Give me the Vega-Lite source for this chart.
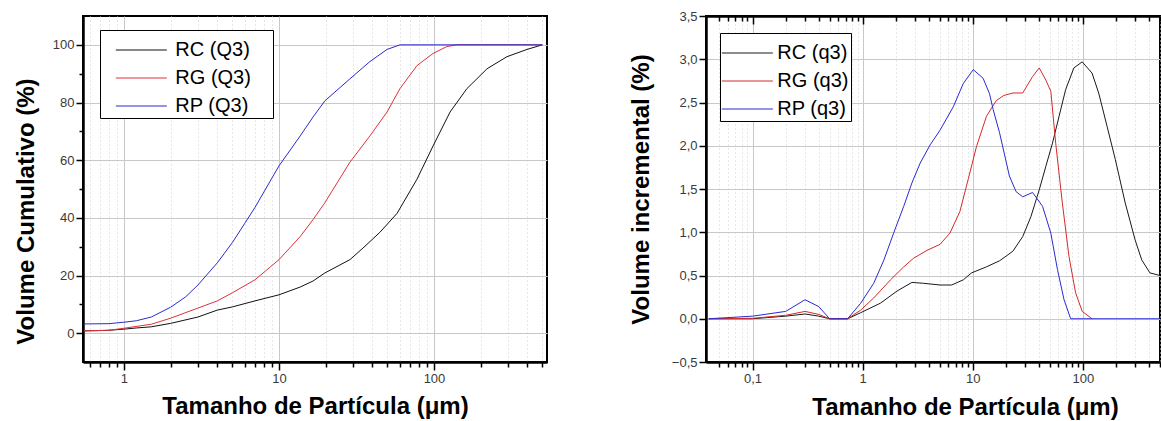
{
  "$schema": "https://vega.github.io/schema/vega-lite/v6.json",
  "padding": {"left": 13, "top": 9, "right": 0, "bottom": 0},
  "bounds": "flush",
  "spacing": 159,
  "datasets": {
    "cum": [
      {"s": "RC (Q3)", "x": 0.55, "y": 0.8}, {"s": "RC (Q3)", "x": 0.7, "y": 0.9}, {"s": "RC (Q3)", "x": 0.8, "y": 1.0},
      {"s": "RC (Q3)", "x": 1, "y": 1.4}, {"s": "RC (Q3)", "x": 1.2, "y": 1.8}, {"s": "RC (Q3)", "x": 1.5, "y": 2.2},
      {"s": "RC (Q3)", "x": 2, "y": 3.4}, {"s": "RC (Q3)", "x": 3, "y": 5.6}, {"s": "RC (Q3)", "x": 4, "y": 8.0},
      {"s": "RC (Q3)", "x": 5, "y": 9.1}, {"s": "RC (Q3)", "x": 7, "y": 11.2}, {"s": "RC (Q3)", "x": 10, "y": 13.3},
      {"s": "RC (Q3)", "x": 13.7, "y": 16.0}, {"s": "RC (Q3)", "x": 16.6, "y": 18.1}, {"s": "RC (Q3)", "x": 19.8, "y": 20.9},
      {"s": "RC (Q3)", "x": 28.7, "y": 25.5}, {"s": "RC (Q3)", "x": 34.8, "y": 29.5}, {"s": "RC (Q3)", "x": 44.8, "y": 35.0},
      {"s": "RC (Q3)", "x": 57.7, "y": 41.5}, {"s": "RC (Q3)", "x": 77.7, "y": 53.4}, {"s": "RC (Q3)", "x": 98.6, "y": 64.9},
      {"s": "RC (Q3)", "x": 127, "y": 76.7}, {"s": "RC (Q3)", "x": 163, "y": 84.8}, {"s": "RC (Q3)", "x": 220, "y": 91.7},
      {"s": "RC (Q3)", "x": 296, "y": 95.9}, {"s": "RC (Q3)", "x": 398, "y": 98.4}, {"s": "RC (Q3)", "x": 500, "y": 100},
      {"s": "RG (Q3)", "x": 0.55, "y": 0.8}, {"s": "RG (Q3)", "x": 0.8, "y": 1.0}, {"s": "RG (Q3)", "x": 1, "y": 1.7},
      {"s": "RG (Q3)", "x": 1.5, "y": 3.1}, {"s": "RG (Q3)", "x": 2, "y": 5.2}, {"s": "RG (Q3)", "x": 3, "y": 8.7},
      {"s": "RG (Q3)", "x": 4, "y": 11.2}, {"s": "RG (Q3)", "x": 5, "y": 14.0}, {"s": "RG (Q3)", "x": 7, "y": 18.5},
      {"s": "RG (Q3)", "x": 10, "y": 25.5}, {"s": "RG (Q3)", "x": 13.7, "y": 33.5}, {"s": "RG (Q3)", "x": 16.6, "y": 39.4},
      {"s": "RG (Q3)", "x": 19.8, "y": 45.3}, {"s": "RG (Q3)", "x": 28.7, "y": 59.3}, {"s": "RG (Q3)", "x": 38.6, "y": 68.4},
      {"s": "RG (Q3)", "x": 49.8, "y": 76.7}, {"s": "RG (Q3)", "x": 60.3, "y": 84.8}, {"s": "RG (Q3)", "x": 77.7, "y": 92.8},
      {"s": "RG (Q3)", "x": 98.6, "y": 97.0}, {"s": "RG (Q3)", "x": 121, "y": 99.4}, {"s": "RG (Q3)", "x": 141, "y": 100},
      {"s": "RG (Q3)", "x": 500, "y": 100},
      {"s": "RP (Q3)", "x": 0.55, "y": 3.2}, {"s": "RP (Q3)", "x": 0.8, "y": 3.3}, {"s": "RP (Q3)", "x": 1, "y": 3.8},
      {"s": "RP (Q3)", "x": 1.2, "y": 4.3}, {"s": "RP (Q3)", "x": 1.5, "y": 5.6}, {"s": "RP (Q3)", "x": 2, "y": 9.0},
      {"s": "RP (Q3)", "x": 2.5, "y": 12.6}, {"s": "RP (Q3)", "x": 3, "y": 16.7}, {"s": "RP (Q3)", "x": 4, "y": 24.4},
      {"s": "RP (Q3)", "x": 5, "y": 31.4}, {"s": "RP (Q3)", "x": 6, "y": 38.0}, {"s": "RP (Q3)", "x": 7, "y": 43.6},
      {"s": "RP (Q3)", "x": 10, "y": 58.0}, {"s": "RP (Q3)", "x": 13.7, "y": 68.4}, {"s": "RP (Q3)", "x": 16.6, "y": 75.0},
      {"s": "RP (Q3)", "x": 19.8, "y": 80.6}, {"s": "RP (Q3)", "x": 28.7, "y": 88.2}, {"s": "RP (Q3)", "x": 38.6, "y": 94.2},
      {"s": "RP (Q3)", "x": 49.8, "y": 98.4}, {"s": "RP (Q3)", "x": 60.3, "y": 100}, {"s": "RP (Q3)", "x": 500, "y": 100}
    ],
    "inc": [
      {"s": "RC (q3)", "x": 0.04, "y": 0}, {"s": "RC (q3)", "x": 0.1, "y": 0}, {"s": "RC (q3)", "x": 0.2, "y": 0.03},
      {"s": "RC (q3)", "x": 0.3, "y": 0.055}, {"s": "RC (q3)", "x": 0.4, "y": 0.03}, {"s": "RC (q3)", "x": 0.5, "y": 0},
      {"s": "RC (q3)", "x": 0.73, "y": 0}, {"s": "RC (q3)", "x": 0.96, "y": 0.07}, {"s": "RC (q3)", "x": 1.45, "y": 0.18},
      {"s": "RC (q3)", "x": 2.05, "y": 0.32}, {"s": "RC (q3)", "x": 2.8, "y": 0.42}, {"s": "RC (q3)", "x": 3.57, "y": 0.41},
      {"s": "RC (q3)", "x": 5.04, "y": 0.39}, {"s": "RC (q3)", "x": 6.43, "y": 0.39}, {"s": "RC (q3)", "x": 8.2, "y": 0.45},
      {"s": "RC (q3)", "x": 9.73, "y": 0.53}, {"s": "RC (q3)", "x": 13.3, "y": 0.60}, {"s": "RC (q3)", "x": 17.5, "y": 0.67},
      {"s": "RC (q3)", "x": 23.1, "y": 0.78}, {"s": "RC (q3)", "x": 28.4, "y": 0.95}, {"s": "RC (q3)", "x": 33.7, "y": 1.18},
      {"s": "RC (q3)", "x": 40.1, "y": 1.49}, {"s": "RC (q3)", "x": 46, "y": 1.76}, {"s": "RC (q3)", "x": 52.9, "y": 2.03},
      {"s": "RC (q3)", "x": 60.7, "y": 2.34}, {"s": "RC (q3)", "x": 69.7, "y": 2.65}, {"s": "RC (q3)", "x": 82.8, "y": 2.90},
      {"s": "RC (q3)", "x": 98.5, "y": 2.97}, {"s": "RC (q3)", "x": 121, "y": 2.84}, {"s": "RC (q3)", "x": 139, "y": 2.61},
      {"s": "RC (q3)", "x": 166, "y": 2.22}, {"s": "RC (q3)", "x": 197, "y": 1.84}, {"s": "RC (q3)", "x": 242, "y": 1.34},
      {"s": "RC (q3)", "x": 298, "y": 0.91}, {"s": "RC (q3)", "x": 342, "y": 0.68}, {"s": "RC (q3)", "x": 406, "y": 0.53},
      {"s": "RC (q3)", "x": 500, "y": 0.50},
      {"s": "RG (q3)", "x": 0.04, "y": 0}, {"s": "RG (q3)", "x": 0.1, "y": 0.005}, {"s": "RG (q3)", "x": 0.2, "y": 0.04},
      {"s": "RG (q3)", "x": 0.3, "y": 0.085}, {"s": "RG (q3)", "x": 0.4, "y": 0.05}, {"s": "RG (q3)", "x": 0.5, "y": 0},
      {"s": "RG (q3)", "x": 0.73, "y": 0}, {"s": "RG (q3)", "x": 0.96, "y": 0.10}, {"s": "RG (q3)", "x": 1.26, "y": 0.24},
      {"s": "RG (q3)", "x": 1.79, "y": 0.45}, {"s": "RG (q3)", "x": 2.36, "y": 0.60}, {"s": "RG (q3)", "x": 2.9, "y": 0.70},
      {"s": "RG (q3)", "x": 3.83, "y": 0.79}, {"s": "RG (q3)", "x": 5.04, "y": 0.86}, {"s": "RG (q3)", "x": 6.2, "y": 0.99},
      {"s": "RG (q3)", "x": 7.64, "y": 1.24}, {"s": "RG (q3)", "x": 9.07, "y": 1.61}, {"s": "RG (q3)", "x": 10.8, "y": 1.99},
      {"s": "RG (q3)", "x": 13.3, "y": 2.34}, {"s": "RG (q3)", "x": 16.3, "y": 2.52}, {"s": "RG (q3)", "x": 19, "y": 2.58},
      {"s": "RG (q3)", "x": 23.1, "y": 2.61}, {"s": "RG (q3)", "x": 28.4, "y": 2.61}, {"s": "RG (q3)", "x": 34.9, "y": 2.80},
      {"s": "RG (q3)", "x": 40.1, "y": 2.90}, {"s": "RG (q3)", "x": 46, "y": 2.76}, {"s": "RG (q3)", "x": 51.1, "y": 2.63},
      {"s": "RG (q3)", "x": 56.6, "y": 2.03}, {"s": "RG (q3)", "x": 65, "y": 1.34}, {"s": "RG (q3)", "x": 74.7, "y": 0.72},
      {"s": "RG (q3)", "x": 85.8, "y": 0.30}, {"s": "RG (q3)", "x": 98.5, "y": 0.085}, {"s": "RG (q3)", "x": 121, "y": 0},
      {"s": "RP (q3)", "x": 0.04, "y": 0}, {"s": "RP (q3)", "x": 0.1, "y": 0.03}, {"s": "RP (q3)", "x": 0.2, "y": 0.085},
      {"s": "RP (q3)", "x": 0.3, "y": 0.22}, {"s": "RP (q3)", "x": 0.4, "y": 0.14}, {"s": "RP (q3)", "x": 0.5, "y": 0},
      {"s": "RP (q3)", "x": 0.73, "y": 0}, {"s": "RP (q3)", "x": 0.96, "y": 0.18}, {"s": "RP (q3)", "x": 1.26, "y": 0.41},
      {"s": "RP (q3)", "x": 1.56, "y": 0.68}, {"s": "RP (q3)", "x": 1.91, "y": 0.99}, {"s": "RP (q3)", "x": 2.36, "y": 1.30},
      {"s": "RP (q3)", "x": 2.8, "y": 1.57}, {"s": "RP (q3)", "x": 3.33, "y": 1.80}, {"s": "RP (q3)", "x": 4.1, "y": 2.01},
      {"s": "RP (q3)", "x": 5.04, "y": 2.18}, {"s": "RP (q3)", "x": 6.65, "y": 2.45}, {"s": "RP (q3)", "x": 8.2, "y": 2.72},
      {"s": "RP (q3)", "x": 10.1, "y": 2.88}, {"s": "RP (q3)", "x": 12.4, "y": 2.78}, {"s": "RP (q3)", "x": 14.2, "y": 2.60},
      {"s": "RP (q3)", "x": 15.3, "y": 2.42}, {"s": "RP (q3)", "x": 17.5, "y": 2.15}, {"s": "RP (q3)", "x": 21.5, "y": 1.65},
      {"s": "RP (q3)", "x": 24.7, "y": 1.47}, {"s": "RP (q3)", "x": 28.4, "y": 1.41}, {"s": "RP (q3)", "x": 34.9, "y": 1.46},
      {"s": "RP (q3)", "x": 43, "y": 1.30}, {"s": "RP (q3)", "x": 51.1, "y": 0.99}, {"s": "RP (q3)", "x": 58.7, "y": 0.57},
      {"s": "RP (q3)", "x": 67.4, "y": 0.22}, {"s": "RP (q3)", "x": 77.4, "y": 0}, {"s": "RP (q3)", "x": 500, "y": 0}
    ]
  },
  "hconcat": [
    {
      "width": 464,
      "height": 346,
      "data": {"name": "cum"},
      "mark": {"type": "line", "strokeWidth": 1, "clip": true},
      "encoding": {
        "x": {
          "field": "x", "type": "quantitative",
          "scale": {"type": "log", "domain": [0.544, 536], "nice": false},
          "axis": {
            "title": "Tamanho de Partícula (μm)",
            "titlePadding": 9,
            "values": [0.6, 0.7, 0.8, 0.9, 1, 2, 3, 4, 5, 6, 7, 8, 9, 10, 20, 30, 40, 50, 60, 70, 80, 90, 100, 200, 300, 400, 500],
            "labelExpr": "datum.value == 1 ? '1' : datum.value == 10 ? '10' : datum.value == 100 ? '100' : ''",
            "tickSize": {"condition": {"test": "datum.value == 1 || datum.value == 10 || datum.value == 100", "value": 8}, "value": 5},
            "gridDash": {"condition": {"test": "datum.value == 1 || datum.value == 10 || datum.value == 100", "value": []}, "value": [1, 3]},
            "gridColor": {"condition": {"test": "datum.value == 1 || datum.value == 10 || datum.value == 100", "value": "#c8c8c8"}, "value": "#d0d0d0"}
          }
        },
        "y": {
          "field": "y", "type": "quantitative",
          "scale": {"domain": [-10, 110], "nice": false},
          "axis": {
            "title": "Volume Cumulativo (%)",
            "titlePadding": 14,
            "titleY": 195,
            "values": [0, 10, 20, 30, 40, 50, 60, 70, 80, 90, 100],
            "labelExpr": "datum.value % 20 == 0 ? datum.label : ''",
            "tickSize": {"condition": {"test": "datum.value % 20 == 0", "value": 7}, "value": 4},
            "gridOpacity": {"condition": {"test": "datum.value % 20 == 0", "value": 1}, "value": 0}
          }
        },
        "color": {
          "field": "s", "type": "nominal",
          "scale": {"domain": ["RC (Q3)", "RG (Q3)", "RP (Q3)"], "range": ["#111111", "#e0303c", "#2b2bd0"]},
          "legend": {
            "orient": "none", "legendX": 17, "legendY": 14,
            "title": " ", "titleOrient": "right", "titlePadding": 20, "titleFontSize": 20,
            "symbolType": "M-1.487,0H1.487", "symbolSize": 1176, "symbolStrokeWidth": 1,
            "symbolOffset": 21.35,
            "labelFontSize": 20, "labelColor": "#000", "labelOffset": 16,
            "strokeColor": "#000", "fillColor": "#fff", "padding": 2, "rowPadding": 0
          }
        }
      }
    },
    {
      "width": 454,
      "height": 346,
      "data": {"name": "inc"},
      "layer": [
        {
          "mark": {"type": "line", "strokeWidth": 1, "clip": true},
          "encoding": {
            "x": {
              "field": "x", "type": "quantitative",
              "scale": {"type": "log", "domain": [0.0378, 501], "nice": false},
              "axis": {
                "title": "Tamanho de Partícula (μm)",
                "titlePadding": 10,
                "titleX": 259,
                "values": [0.05, 0.06, 0.07, 0.08, 0.09, 0.1, 0.2, 0.3, 0.4, 0.5, 0.6, 0.7, 0.8, 0.9, 1, 2, 3, 4, 5, 6, 7, 8, 9, 10, 20, 30, 40, 50, 60, 70, 80, 90, 100, 200, 300, 400, 500],
                "labelExpr": "datum.value == 0.1 ? '0,1' : datum.value == 1 ? '1' : datum.value == 10 ? '10' : datum.value == 100 ? '100' : ''",
                "tickSize": {"condition": {"test": "datum.value == 0.1 || datum.value == 1 || datum.value == 10 || datum.value == 100", "value": 8}, "value": 5},
                "gridDash": {"condition": {"test": "datum.value == 0.1 || datum.value == 1 || datum.value == 10 || datum.value == 100", "value": []}, "value": [1, 3]},
                "gridColor": {"condition": {"test": "datum.value == 0.1 || datum.value == 1 || datum.value == 10 || datum.value == 100", "value": "#c8c8c8"}, "value": "#d0d0d0"}
              }
            },
            "y": {
              "field": "y", "type": "quantitative",
              "scale": {"domain": [-0.5, 3.5], "nice": false},
              "axis": {
                "title": "Volume incremental (%)",
                "titlePadding": 18,
                "values": [-0.5, -0.25, 0, 0.25, 0.5, 0.75, 1, 1.25, 1.5, 1.75, 2, 2.25, 2.5, 2.75, 3, 3.25, 3.5],
                "labelExpr": "abs(datum.value * 2) % 1 == 0 ? replace(format(datum.value, '.1f'), '.', ',') : ''",
                "tickSize": {"condition": {"test": "abs(datum.value * 2) % 1 == 0", "value": 7}, "value": 4},
                "gridOpacity": {"condition": {"test": "abs(datum.value * 2) % 1 == 0", "value": 1}, "value": 0}
              }
            },
            "color": {
              "field": "s", "type": "nominal",
              "scale": {"domain": ["RC (q3)", "RG (q3)", "RP (q3)"], "range": ["#1a1a1a", "#d42a2a", "#2a2ad4"]},
              "legend": {
                "orient": "none", "legendX": 14, "legendY": 17, "title": null,
                "symbolType": "M-1.487,0H1.487", "symbolSize": 1176, "symbolStrokeWidth": 1,
                "symbolOffset": 7.35,
                "labelFontSize": 20, "labelColor": "#000", "labelOffset": 12,
                "strokeColor": "#000", "fillColor": "#fff", "padding": 2, "rowPadding": 0
              }
            }
          }
        },
        {
          "mark": {"type": "line", "opacity": 0},
          "encoding": {
            "x": {
              "field": "x", "type": "quantitative",
              "axis": {
                "orient": "top", "title": null, "labels": false, "grid": false,
                "values": [0.05, 0.06, 0.07, 0.08, 0.09, 0.1, 0.2, 0.3, 0.4, 0.5, 0.6, 0.7, 0.8, 0.9, 1, 2, 3, 4, 5, 6, 7, 8, 9, 10, 20, 30, 40, 50, 60, 70, 80, 90, 100, 200, 300, 400, 500],
                "tickSize": {"condition": {"test": "datum.value == 0.1 || datum.value == 1 || datum.value == 10 || datum.value == 100", "value": -8}, "value": -5}
              }
            },
            "y": {"field": "y", "type": "quantitative"},
            "color": {"field": "s", "type": "nominal"}
          }
        }
      ],
      "resolve": {"axis": {"x": "independent"}}
    }
  ],
  "resolve": {"scale": {"color": "independent"}, "legend": {"color": "independent"}},
  "config": {
    "font": "Liberation Sans",
    "view": {"stroke": "#000", "strokeWidth": 2},
    "axis": {
      "domainColor": "#000", "domainWidth": 2.5,
      "tickColor": "#000", "tickWidth": 1.5,
      "labelFont": "Liberation Sans", "labelFontSize": 13, "labelColor": "#3a3a3a", "labelPadding": 2,
      "titleFont": "Liberation Sans", "titleFontSize": 24, "titleFontWeight": "bold", "titleColor": "#000",
      "gridColor": "#c8c8c8", "gridWidth": 1
    },
    "legend": {"labelFont": "Liberation Sans"}
  }
}
